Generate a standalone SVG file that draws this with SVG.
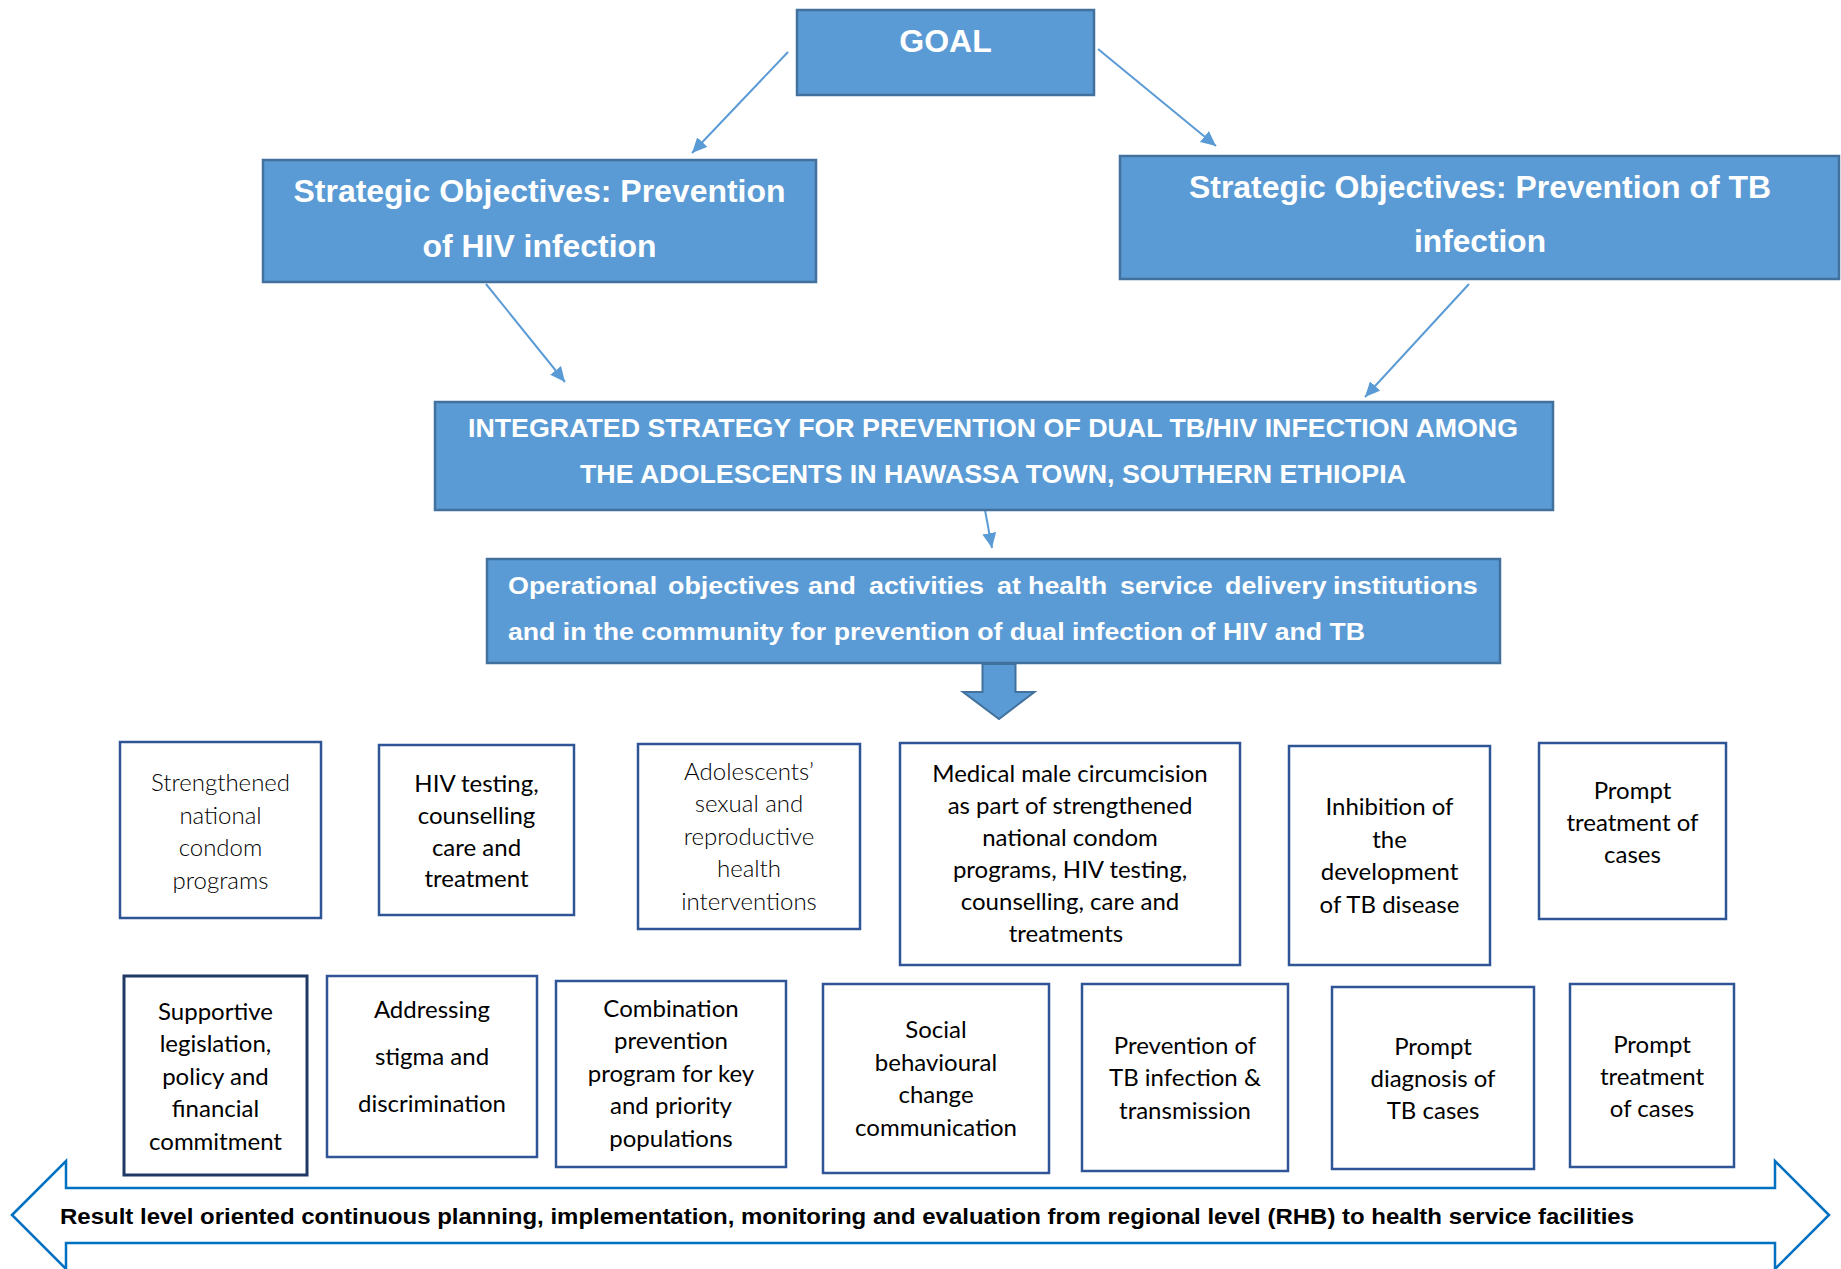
<svg xmlns="http://www.w3.org/2000/svg" width="1841" height="1269" viewBox="0 0 1841 1269">
<style>
.hdr{fill:#5B9BD5;stroke:#41719C;stroke-width:2.5}
.ht{font-family:"Liberation Sans",Arial,sans-serif;font-weight:bold;fill:#FFFFFF}
.bx{fill:#FFFFFF;stroke:#2F5597;stroke-width:2.5}
.bx2{fill:#FFFFFF;stroke:#1F3864;stroke-width:3}
.t{font-family:Lato,"Open Sans",sans-serif;font-size:24px;fill:#000000;text-anchor:middle}
.tl{font-weight:300}
.conn{stroke:#5B9BD5;stroke-width:2;fill:none;marker-end:url(#ah)}
</style>
<defs>
<marker id="ah" markerUnits="userSpaceOnUse" markerWidth="18" markerHeight="16" refX="15" refY="7" orient="auto">
<path d="M0,0 L15,7 L0,14 Z" fill="#5B9BD5"/>
</marker>
</defs>
<rect width="1841" height="1269" fill="#FFFFFF"/>

<g id="connectors">
<line class="conn" x1="788" y1="52" x2="692" y2="153"/>
<line class="conn" x1="1098" y1="49" x2="1216" y2="146"/>
<line class="conn" x1="486" y1="284" x2="565" y2="382"/>
<line class="conn" x1="1469" y1="284" x2="1365" y2="397"/>
<line class="conn" x1="985" y1="510" x2="992" y2="548"/>
<path d="M982.5,664 L1015.5,664 L1015.5,692 L1034.5,692 L999,719 L963,692 L982.5,692 Z" fill="#5B9BD5" stroke="#41719C" stroke-width="2"/>
</g>

<g id="goal">
<rect class="hdr" x="797" y="10" width="297" height="85"/>
<text class="ht" x="945.5" y="52" font-size="32" text-anchor="middle">GOAL</text>
</g>

<g id="so-hiv">
<rect class="hdr" x="263" y="160" width="553" height="122"/>
<text class="ht" x="539.5" y="202" font-size="32" text-anchor="middle" textLength="492" lengthAdjust="spacingAndGlyphs">Strategic Objectives: Prevention</text>
<text class="ht" x="539.5" y="257" font-size="32" text-anchor="middle" textLength="234" lengthAdjust="spacingAndGlyphs">of HIV infection</text>
</g>

<g id="so-tb">
<rect class="hdr" x="1120" y="156" width="719" height="123"/>
<text class="ht" x="1480" y="198" font-size="32" text-anchor="middle" textLength="582" lengthAdjust="spacingAndGlyphs">Strategic Objectives: Prevention of TB</text>
<text class="ht" x="1480" y="252" font-size="32" text-anchor="middle" textLength="132" lengthAdjust="spacingAndGlyphs">infection</text>
</g>

<g id="integrated">
<rect class="hdr" x="435" y="402" width="1118" height="108"/>
<text class="ht" x="993" y="437" font-size="25" text-anchor="middle" textLength="1050" lengthAdjust="spacingAndGlyphs">INTEGRATED STRATEGY FOR PREVENTION OF DUAL TB/HIV INFECTION AMONG</text>
<text class="ht" x="993" y="483" font-size="25" text-anchor="middle" textLength="826" lengthAdjust="spacingAndGlyphs">THE ADOLESCENTS IN HAWASSA TOWN, SOUTHERN ETHIOPIA</text>
</g>

<g id="operational">
<rect class="hdr" x="487" y="559" width="1013" height="104"/>
<text class="ht" y="594" font-size="24" transform="translate(508,0) scale(1.12,1) translate(-508,0)"><tspan x="508">Operational</tspan><tspan x="650.9">objectives</tspan><tspan x="775.9">and</tspan><tspan x="830.3">activities</tspan><tspan x="944.6">at</tspan><tspan x="972.3">health</tspan><tspan x="1054.4">service</tspan><tspan x="1148.2">delivery</tspan><tspan x="1244.6">institutions</tspan></text>
<text class="ht" x="508" y="640" font-size="24" textLength="857" lengthAdjust="spacingAndGlyphs">and in the community for prevention of dual infection of HIV and TB</text>
</g>

<g id="b1">
<rect class="bx" x="120" y="742" width="201" height="176"/>
<text class="t tl" x="220.5" y="791">Strengthened</text>
<text class="t tl" x="220.5" y="824">national</text>
<text class="t tl" x="220.5" y="856">condom</text>
<text class="t tl" x="220.5" y="889">programs</text>
</g>

<g id="b2">
<rect class="bx" x="379" y="745" width="195" height="170"/>
<text class="t" x="476.5" y="792">HIV testing,</text>
<text class="t" x="476.5" y="824">counselling</text>
<text class="t" x="476.5" y="856">care and</text>
<text class="t" x="476.5" y="887">treatment</text>
</g>

<g id="b3">
<rect class="bx" x="638" y="744" width="222" height="185"/>
<text class="t tl" x="749" y="780">Adolescents’</text>
<text class="t tl" x="749" y="812">sexual and</text>
<text class="t tl" x="749" y="845">reproductive</text>
<text class="t tl" x="749" y="877">health</text>
<text class="t tl" x="749" y="910">interventions</text>
</g>

<g id="b4">
<rect class="bx" x="900" y="743" width="340" height="222"/>
<text class="t" x="1070" y="782">Medical male circumcision</text>
<text class="t" x="1070" y="814">as part of strengthened</text>
<text class="t" x="1070" y="846">national condom</text>
<text class="t" x="1070" y="878">programs, HIV testing,</text>
<text class="t" x="1070" y="910">counselling, care and</text>
<text class="t" x="1066" y="942">treatments</text>
</g>

<g id="b5">
<rect class="bx" x="1289" y="746" width="201" height="219"/>
<text class="t" x="1389.5" y="815">Inhibition of</text>
<text class="t" x="1389.5" y="848">the</text>
<text class="t" x="1389.5" y="880">development</text>
<text class="t" x="1389.5" y="913">of TB disease</text>
</g>

<g id="b6">
<rect class="bx" x="1539" y="743" width="187" height="176"/>
<text class="t" x="1632.5" y="799">Prompt</text>
<text class="t" x="1632.5" y="831">treatment of</text>
<text class="t" x="1632.5" y="863">cases</text>
</g>

<g id="b7">
<rect class="bx2" x="124" y="976" width="183" height="199"/>
<text class="t" x="215.5" y="1020">Supportive</text>
<text class="t" x="215.5" y="1052">legislation,</text>
<text class="t" x="215.5" y="1085">policy and</text>
<text class="t" x="215.5" y="1117">financial</text>
<text class="t" x="215.5" y="1150">commitment</text>
</g>

<g id="b8">
<rect class="bx" x="327" y="976" width="210" height="181"/>
<text class="t" x="432" y="1018">Addressing</text>
<text class="t" x="432" y="1065">stigma and</text>
<text class="t" x="432" y="1112">discrimination</text>
</g>

<g id="b9">
<rect class="bx" x="556" y="981" width="230" height="186"/>
<text class="t" x="671" y="1017">Combination</text>
<text class="t" x="671" y="1049">prevention</text>
<text class="t" x="671" y="1082">program for key</text>
<text class="t" x="671" y="1114">and priority</text>
<text class="t" x="671" y="1147">populations</text>
</g>

<g id="b10">
<rect class="bx" x="823" y="984" width="226" height="189"/>
<text class="t" x="936" y="1038">Social</text>
<text class="t" x="936" y="1071">behavioural</text>
<text class="t" x="936" y="1103">change</text>
<text class="t" x="936" y="1136">communication</text>
</g>

<g id="b11">
<rect class="bx" x="1082" y="984" width="206" height="187"/>
<text class="t" x="1185" y="1054">Prevention of</text>
<text class="t" x="1185" y="1086">TB infection &amp;</text>
<text class="t" x="1185" y="1119">transmission</text>
</g>

<g id="b12">
<rect class="bx" x="1332" y="987" width="202" height="182"/>
<text class="t" x="1433" y="1055">Prompt</text>
<text class="t" x="1433" y="1087">diagnosis of</text>
<text class="t" x="1433" y="1119">TB cases</text>
</g>

<g id="b13">
<rect class="bx" x="1570" y="984" width="164" height="183"/>
<text class="t" x="1652" y="1053">Prompt</text>
<text class="t" x="1652" y="1085">treatment</text>
<text class="t" x="1652" y="1117">of cases</text>
</g>

<g id="result-arrow">
<path d="M12,1215 L66,1161 L66,1188 L1775,1188 L1775,1161 L1829,1215 L1775,1269 L1775,1243 L66,1243 L66,1269 Z" fill="#FFFFFF" stroke="#0070C0" stroke-width="2.5" stroke-linejoin="miter"/>
<text x="60" y="1224" font-family="'Liberation Sans',Arial,sans-serif" font-weight="bold" font-size="22" fill="#000000" textLength="1574" lengthAdjust="spacingAndGlyphs">Result level oriented continuous planning, implementation, monitoring and evaluation from regional level (RHB) to health service facilities</text>
</g>
</svg>
